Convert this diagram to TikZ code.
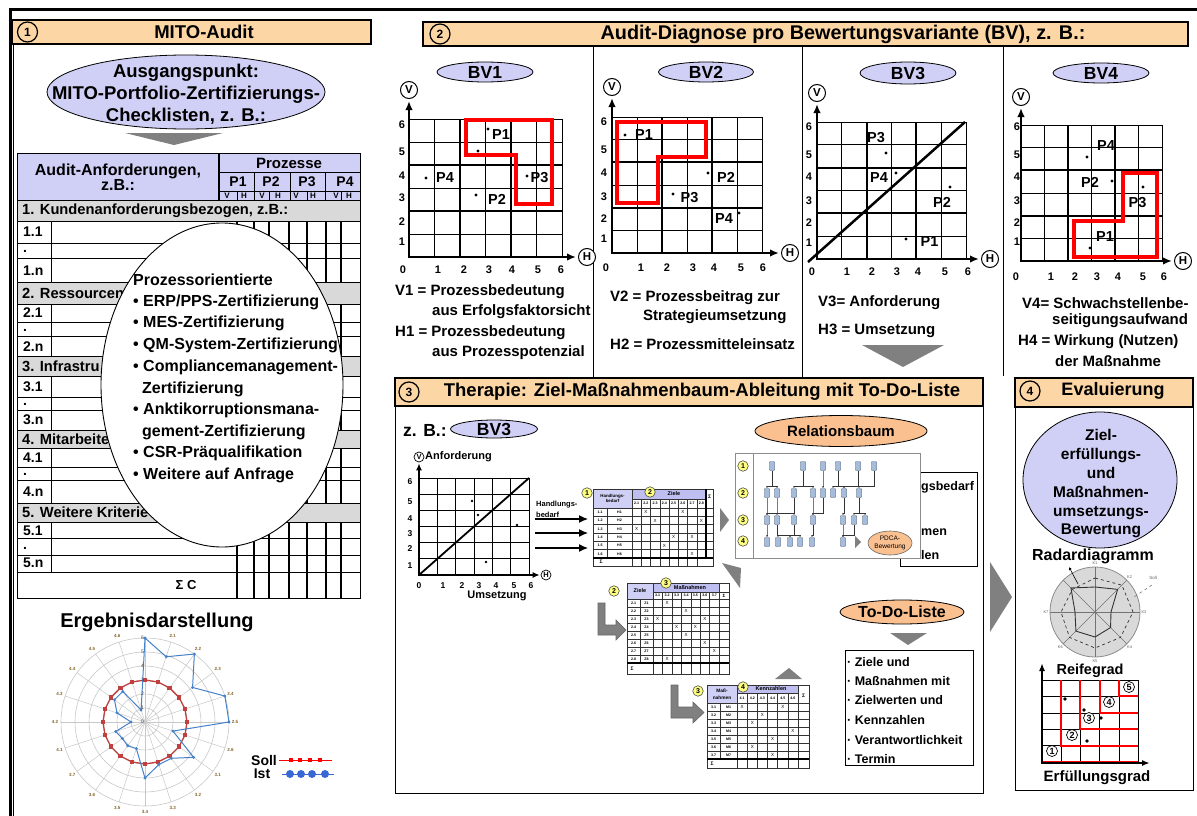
\documentclass[tikz,border=0pt]{standalone}
\usepackage{fontspec}
\setmainfont{Liberation Sans}
\usetikzlibrary{arrows.meta,shapes.geometric,calc}
\definecolor{hdr}{RGB}{252,214,164}
\definecolor{lav}{RGB}{208,208,246}
\definecolor{lavd}{RGB}{190,190,240}
\definecolor{orng}{RGB}{250,192,144}
\definecolor{barg}{RGB}{217,217,217}
\definecolor{trig}{RGB}{128,128,128}
\definecolor{ylw}{RGB}{255,255,130}
\definecolor{sollc}{RGB}{192,64,64}
\definecolor{istc}{RGB}{70,130,200}
\definecolor{radlab}{RGB}{130,100,40}
\definecolor{nodeb}{RGB}{165,188,218}
\definecolor{gridg}{RGB}{200,200,200}
\newcommand\fsz[2]{\fontsize{#1}{#2}\selectfont\bfseries}
\newcommand\fsn[2]{\fontsize{#1}{#2}\selectfont}
\newcommand\bvgrid[6]{%
  \begin{scope}[shift={(#1,#2)},x=#3pt,y=#4pt]
    \foreach \gi in {0,...,6}{%
      \draw[line width=#5] (\gi,0)--(\gi,6);
      \draw[line width=#5] (0,\gi)--(6,\gi);}
    \draw[line width=#6] (2,0)--(2,6) (4,0)--(4,6) (0,2)--(6,2) (0,4)--(6,4);
  \end{scope}}
\newcommand\relconn[2]{\draw[relline] (#1.south) |- ([yshift=2.5pt]#2.north) -- (#2.north);}
\tikzset{
  fs/.style 2 args={inner sep=0pt, font=\fsz{#1}{#2}},
  fn/.style 2 args={inner sep=0pt, font=\fsn{#1}{#2}},
  hdrbox/.style={draw=black, line width=1.2pt, fill=hdr},
  numc/.style={circle, draw=black, line width=1.2pt, inner sep=0pt, minimum size=20pt, font=\fsz{12}{13}},
  axc/.style={circle, draw=black, line width=1pt, fill=white, inner sep=0pt, minimum size=17pt, font=\fsz{11.5}{13}},
  axcs/.style={circle, draw=black, line width=0.7pt, fill=white, inner sep=0pt, minimum size=10pt, font=\fsz{7.5}{8}},
  bvell/.style={ellipse, draw=black, line width=0.8pt, fill=lav, inner sep=0pt, font=\fsz{17.5}{20}},
  axarr/.style={line width=2.5pt, shorten <=2pt, shorten >=2pt, {Latex[length=9pt,width=7.5pt]}-{Latex[length=9pt,width=7.5pt]}},
  axarrs/.style={line width=1.8pt, shorten <=1pt, shorten >=1pt, {Latex[length=7pt,width=6pt]}-{Latex[length=7pt,width=6pt]}},
  redpoly/.style={draw=red, line width=4pt, line join=miter},
  dotp/.style={circle, fill=black, inner sep=0pt, minimum size=3.4pt},
  plab/.style={inner sep=0pt, font=\fsz{14.5}{16}},
  tickl/.style={inner sep=0pt, font=\fsz{11}{12}},
  tickls/.style={inner sep=0pt, font=\fsz{8.5}{9}},
  bvtxt/.style={inner sep=0pt, anchor=west, font=\fsz{15}{17}},
  ycirc/.style={circle, draw=black!70, line width=0.6pt, fill=ylw, inner sep=0pt, minimum size=10.5pt, font=\fsz{7}{8}},
  tcell/.style={inner sep=0pt, font=\fsz{3.6}{4}},
  xmark/.style={inner sep=0pt, font=\fsn{4.5}{5}},
  tline/.style={line width=0.4pt, draw=black!80},
  relbox/.style={draw=nodeb!55!black, fill=nodeb, line width=0.4pt, minimum width=5.5pt, minimum height=9pt, inner sep=0pt, rounded corners=0.8pt},
  relline/.style={line width=0.5pt, draw=black!80, -{Latex[length=2pt,width=2pt]}},
  todotxt/.style={inner sep=0pt, anchor=west, font=\fsz{12.5}{14}},
  grayarrow/.style={fill=trig, draw=black!60, line width=0.6pt},
  rowlab/.style={inner sep=0pt, anchor=west, font=\fsz{14}{16}},
  bartxt/.style={inner sep=0pt, anchor=west, font=\fsz{14.7}{16}},
  elltxt/.style={inner sep=0pt, anchor=west, font=\fsz{16}{18}},
  mcirc/.style={circle, draw=black, fill=white, line width=0.7pt, minimum size=11pt, inner sep=0pt, font=\fsz{9}{9}},
}
\begin{document}
\begin{tikzpicture}[x=1pt,y=-1pt]
\useasboundingbox (0,0) rectangle (1197,816);
\fill[white] (0,0) rectangle (1197,816);
% ---------------- outer frame
\draw[line width=3pt] (10,818) -- (10,10) -- (1199,10);
\draw[line width=1pt] (13.8,44) -- (13.8,818);

% ================= SECTION 1
\draw[hdrbox] (12,20) rectangle (371,44);
\node[numc] (n1) at (27.5,32) {1};
\node[fs={18.5}{20}] (t1) at (204,32) {MITO-Audit};
\node[ellipse, draw=black, line width=0.8pt, fill=lav, minimum width=278pt, minimum height=74pt, inner sep=0pt] (ausg) at (186,92) {};
\node[fs={18.5}{22}, align=center] (ausgt) at (186,94) {Ausgangspunkt:\\MITO-Portfolio-Zertifizierungs-\\Checklisten, z. B.:};
\fill[trig] (125,133) -- (223,133) -- (174,145) -- cycle;

% table header
\draw[line width=1pt, fill=lav] (17,153) rectangle (360,200);
\draw[line width=2pt] (219,153) -- (219,200);
\draw[line width=1pt] (219,172) -- (360,172) (254,172)--(254,200) (290,172)--(290,200) (325,172)--(325,200);
\draw[line width=0.8pt] (219,191)--(360,191) (237,191)--(237,200) (269,191)--(269,200) (307,191)--(307,200) (341,191)--(341,200);
\node[fs={16}{13.5}, align=center] (aah) at (118,177) {Audit-Anforderungen,\\z.B.:};
\node[fs={15}{16}] (proz) at (289,163) {Prozesse};
\node[fs={14}{16}] (p1h) at (238,181.5) {P1};
\node[fs={14}{16}] (p2h) at (271,181.5) {P2};
\node[fs={14}{16}] (p3h) at (307,181.5) {P3};
\node[fs={14}{16}] (p4h) at (345,181.5) {P4};
\foreach \vx/\hx in {227/244, 262/278, 296/313, 336/349} {
  \node[fs={8}{8}] at (\vx,196) {V};
  \node[fs={8}{8}] at (\hx,196) {H};}

% table body
\draw[line width=0.9pt] (17,200) rectangle (360,598);
\draw[line width=1pt] (51,221) -- (51,572);
\foreach \cx in {237,254,269,289,307,326,341} \draw[line width=1.1pt] (\cx,200) -- (\cx,598);
\foreach \ry in {243,258,282,304,322,336,356,376,397,410,430,448,467,480,503,522,538,555,572} \draw[line width=0.9pt] (17,\ry) -- (360,\ry);
\foreach \ya/\yb in {200/221,282/304,356/376,430/448,503/522} \draw[line width=0.9pt, fill=barg] (17,\ya) rectangle (360,\yb);
\node[bartxt] (b1) at (22,211) {1. Kundenanforderungsbezogen, z.B.:};
\node[bartxt] (b2) at (22,293) {2. Ressourcen};
\node[bartxt] (b3) at (22,366) {3. Infrastru};
\node[bartxt] (b4) at (22,439) {4. Mitarbeite};
\node[bartxt] (b5) at (22,512.5) {5. Weitere Kriterie};
\foreach \lab/\ly in {1.1/232, ./251, 1.n/271, 2.1/313, ./330, 2.n/347, 3.1/387, ./404, 3.n/420, 4.1/458, ./474, 4.n/492, 5.1/531, ./548, 5.n/563}
  \node[rowlab] at (23,\ly) {\lab};
\node[fs={13}{15}] (sumc) at (186,585) {Σ C};

% overlay ellipse
\node[ellipse, draw=black, line width=0.9pt, fill=white, minimum width=242pt, minimum height=324pt, inner sep=0pt] (proell) at (222,385) {};
\node[elltxt] (e0) at (133,280) {Prozessorientierte};
\node[elltxt] (e1) at (133,302) {• ERP/PPS-Zertifizierung};
\node[elltxt] (e2) at (133,323) {• MES-Zertifizierung};
\node[elltxt] (e3) at (133,345) {• QM-System-Zertifizierung};
\node[elltxt] (e4) at (133,367) {• Compliancemanagement-};
\node[elltxt] (e5) at (142,389) {Zertifizierung};
\node[elltxt] (e6) at (133,410) {• Anktikorruptionsmana-};
\node[elltxt] (e7) at (142,432) {gement-Zertifizierung};
\node[elltxt] (e8) at (133,453) {• CSR-Präqualifikation};
\node[elltxt] (e9) at (133,475) {• Weitere auf Anfrage};

% Ergebnisdarstellung
\node[fs={20}{22}] (ergd) at (157,622) {Ergebnisdarstellung};
\begin{scope}[shift={(145,722)}]
  \foreach \r in {1,...,6} \draw[gridg, line width=0.6pt] (0,0) circle[radius=\r*14pt];
  \foreach \k in {0,...,19} \draw[gridg, line width=0.5pt] (0,0) -- ({90-18*\k}:84pt);
  \draw[sollc, line width=1.3pt] (90:42pt) \foreach \k in {1,...,19} { -- ({90-18*\k}:42pt) } -- cycle;
  \foreach \k in {0,...,19} \fill[sollc] ({90-18*\k}:42pt) ++(-2.4pt,-2.4pt) rectangle ++(4.8pt,4.8pt);
  \draw[istc, line width=1pt] (90:84pt) -- (72:68.6pt) -- (54:84pt) -- (36:58.8pt) -- (18:84pt) -- (0:84pt) -- (-18:29.4pt) -- (-36:60.2pt) -- (-54:44.8pt) -- (-72:44.8pt) -- (-90:56pt) -- (-108:28pt) -- (-126:29.4pt) -- (-144:28pt) -- (-162:30.8pt) -- (180:14pt) -- (162:29.4pt) -- (144:37.8pt) -- (126:37.8pt) -- (108:12.6pt) -- cycle;
  \foreach \a/\rr in {90/84,72/68.6,54/84,36/58.8,18/84,0/84,-18/29.4,-36/60.2,-54/44.8,-72/44.8,-90/56,-108/28,-126/29.4,-144/28,-162/30.8,180/14,162/29.4,144/37.8,126/37.8,108/12.6}
    \fill[istc] (\a:\rr pt) circle[radius=1.6pt];
  \foreach \v in {0,...,6} \node[fn={5}{5}, anchor=east, text=black!75] at (-1pt,{\v*14pt}) {\v};
  \foreach \k/\l in {1/2.1,2/2.2,3/2.3,4/2.4,5/2.5,6/2.6,7/3.1,8/3.2,9/3.3,10/3.4,11/3.5,12/3.6,13/3.7,14/4.1,15/4.2,16/4.3,17/4.4,18/4.5,19/4.6}
    \node[fs={4.5}{5}, text=radlab] at ({90-18*\k}:90pt) {\l};
\end{scope}
\node[fs={14}{16}] (lsoll) at (264,760) {Soll};
\node[fs={14}{16}] (list) at (262,774) {Ist};
\draw[red, line width=1pt] (279,760) -- (332,760);
\foreach \sx in {291,300,310,320} \fill[red] (\sx-2.2,757.8) rectangle (\sx+2.2,762.2);
\draw[istc!80!blue, line width=1pt] (282,774) -- (334,774);
\foreach \sx in {290,301,312,325} \fill[istc!80!blue] (\sx,774) circle[radius=4pt];

% ================= SECTION 2
\draw[hdrbox] (423,22) rectangle (1188,46);
\node[numc] (n2) at (440,34) {2};
\node[fs={19.8}{21}] (t2) at (843,34) {Audit-Diagnose pro Bewertungsvariante (BV), z. B.:};
\draw[line width=1pt] (593,46) -- (593,378) (802,46) -- (802,378) (1003,46) -- (1003,376);

% ---- BV1
\node[bvell, minimum width=96pt, minimum height=20pt] (bv1) at (485,72) {BV1};
\bvgrid{409}{257}{25.5}{23}{0.9pt}{2pt}
\node[axc] (ax1v) at (409,90) {V};
\node[axc] (ax1h) at (587,257) {H};
\draw[axarr] (ax1v) |- (ax1h);
\draw[redpoly] (466,120) -- (552,120) -- (552,204) -- (516,204) -- (516,155) -- (466,155) -- cycle;
\foreach \v/\yy in {6/125,5/152,4/176,3/198,2/222,1/242} \node[tickl] at (402,\yy) {\v};
\foreach \v/\xx in {0/403,1/438,2/464,3/489,4/512,5/538,6/561} \node[tickl] at (\xx,270) {\v};
\node[dotp] (d11) at (488,129) {}; \node[plab] (l11) at (501,134.5) {P1};
\node[dotp] (d15) at (478,151) {};
\node[dotp] (d14) at (426,178) {}; \node[plab] (l14) at (445,178) {P4};
\node[dotp] (d12) at (476,195) {}; \node[plab] (l12) at (497,199.5) {P2};
\node[dotp] (d13) at (527,176) {}; \node[plab] (l13) at (539.5,177.5) {P3};
\node[bvtxt] (v1t) at (395,292) {V1 = Prozessbedeutung};
\node[bvtxt] (v1t2) at (432,312) {aus Erfolgsfaktorsicht};
\node[bvtxt] (h1t) at (395,333) {H1 = Prozessbedeutung};
\node[bvtxt] (h1t2) at (432,353) {aus Prozesspotenzial};

% ---- BV2
\node[bvell, minimum width=95pt, minimum height=20pt] (bv2) at (706,72) {BV2};
\bvgrid{612}{253}{25}{22.67}{0.9pt}{2pt}
\node[axc] (ax2v) at (612,87) {V};
\node[axc] (ax2h) at (790,253) {H};
\draw[axarr] (ax2v) |- (ax2h);
\draw[redpoly] (617,122) -- (706,122) -- (706,157) -- (658,157) -- (658,203) -- (617,203) -- cycle;
\foreach \v/\yy in {6/122,5/150,4/173,3/197,2/219,1/239} \node[tickl] at (604,\yy) {\v};
\foreach \v/\xx in {0/606,1/641,2/667,3/693,4/714,5/741,6/763} \node[tickl] at (\xx,268) {\v};
\node[dotp] (d21) at (625,135) {}; \node[plab] (l21) at (644,134.5) {P1};
\node[dotp] (d22) at (708,173) {}; \node[plab] (l22) at (726,177) {P2};
\node[dotp] (d23) at (673,194) {}; \node[plab] (l23) at (689.5,197.5) {P3};
\node[dotp] (d24) at (739,213) {}; \node[plab] (l24) at (724,218.5) {P4};
\node[bvtxt] (v2t) at (610,298) {V2 = Prozessbeitrag zur};
\node[bvtxt] (v2t2) at (643,317) {Strategieumsetzung};
\node[bvtxt] (h2t) at (610,344) {H2 = Prozessmitteleinsatz};

% ---- BV3
\node[bvell, minimum width=96pt, minimum height=22pt] (bv3) at (908,73) {BV3};
\bvgrid{817}{259}{24.83}{22.83}{0.9pt}{2pt}
\node[axc] (ax3v) at (817,93) {V};
\node[axc] (ax3h) at (990,259) {H};
\draw[axarr] (ax3v) |- (ax3h);
\coordinate (dg3a) at (808,262);
\coordinate (dg3b) at (965,122);
\draw[line width=2.5pt] (dg3a) -- (dg3b);
\foreach \v/\yy in {6/127,5/155,4/177,3/201,2/223,1/243} \node[tickl] at (809,\yy) {\v};
\foreach \v/\xx in {0/812,1/847,2/872,3/897,4/918,5/945,6/968} \node[tickl] at (\xx,272) {\v};
\node[dotp] (d33) at (886,153) {}; \node[plab] (l33) at (876,137.5) {P3};
\node[dotp] (d34) at (896,173) {}; \node[plab] (l34) at (879,177.5) {P4};
\node[dotp] (d32) at (950,187) {}; \node[plab] (l32) at (942,202.5) {P2};
\node[dotp] (d31) at (906,239) {}; \node[plab] (l31) at (929.5,242) {P1};
\node[bvtxt] (v3t) at (818,303) {V3= Anforderung};
\node[bvtxt] (h3t) at (818,331) {H3 = Umsetzung};
\fill[trig] (862,345) -- (944,345) -- (903,367) -- cycle;

% ---- BV4
\node[bvell, minimum width=96pt, minimum height=20pt] (bv4) at (1101,73) {BV4};
\bvgrid{1021}{261}{23.5}{22.67}{0.9pt}{2pt}
\node[axc] (ax4v) at (1021,97) {V};
\node[axc] (ax4h) at (1183,261) {H};
\draw[axarr] (ax4v) |- (ax4h);
\draw[redpoly] (1074,221) -- (1123,221) -- (1123,173) -- (1157,173) -- (1157,257) -- (1074,257) -- cycle;
\foreach \v/\yy in {6/127,5/155,4/177,3/201,2/223,1/242} \node[tickl] at (1017,\yy) {\v};
\foreach \v/\xx in {0/1016,1/1051,2/1075,3/1097,4/1118,5/1143,6/1164} \node[tickl] at (\xx,277) {\v};
\node[dotp] (d44) at (1087,157) {}; \node[plab] (l44) at (1106,146) {P4};
\node[dotp] (d42) at (1112,181) {}; \node[plab] (l42) at (1090,182.5) {P2};
\node[dotp] (d43) at (1143,187) {}; \node[plab] (l43) at (1137.5,202.5) {P3};
\node[dotp] (d41) at (1090,248) {}; \node[plab] (l41) at (1105,236.5) {P1};
\node[bvtxt] (v4t) at (1022,303) {V4= Schwachstellenbe-};
\node[bvtxt] (v4t2) at (1052,321) {seitigungsaufwand};
\node[bvtxt] (h4t) at (1018,342) {H4 = Wirkung (Nutzen)};
\node[bvtxt] (h4t2) at (1055,361) {der Maßnahme};

% ================= SECTION 3
\draw[line width=1pt] (395,406) rectangle (983,793);
\draw[hdrbox] (395,378) rectangle (983,406);
\node[numc] (n3) at (409,392) {3};
\node[fs={18.5}{20}] (t3) at (702,392) {Therapie: Ziel-Maßnahmenbaum-Ableitung mit To-Do-Liste};
\node[fs={17.5}{20}, anchor=west] (zb) at (403,430) {z. B.:};
\node[bvell, minimum width=87pt, minimum height=18pt] (bv3b) at (494,429) {BV3};

% small plot
\bvgrid{419}{575}{18.33}{16.17}{0.7pt}{1.5pt}
\node[axcs] (axsv) at (419,457) {V};
\node[axcs] (axsh) at (546,575) {H};
\draw[axarrs] (axsv) |- (axsh);
\node[fs={11}{12}, anchor=west] (anf) at (425,457) {Anforderung};
\coordinate (dgsa) at (419,575);
\coordinate (dgsb) at (529,478);
\draw[line width=1.8pt] (dgsa) -- (dgsb);
\foreach \v/\yy in {6/482,5/502,4/519,3/534,2/549,1/566} \node[tickls] at (410,\yy) {\v};
\foreach \v/\xx in {0/419,1/443,2/462,3/479,4/496,5/514,6/531} \node[tickls] at (\xx,586) {\v};
\node[fs={11}{12}] (ums) at (497,596) {Umsetzung};
\foreach \px/\py in {472/501,478/515,517/525,486/562} \fill (\px,\py) circle[radius=1.4pt];

% Handlungsbedarf arrows
\node[fs={7.5}{9}, anchor=west] (hb1) at (536,505) {Handlungs-};
\node[fs={7.5}{9}, anchor=west] (hb2) at (536,516) {\underline{bedarf}};
\coordinate (ar1a) at (535,519); \coordinate (ar1b) at (588,519);
\coordinate (ar2a) at (535,533); \coordinate (ar2b) at (588,533);
\coordinate (ar3a) at (535,548); \coordinate (ar3b) at (588,548);
\foreach \aa/\bb in {ar1a/ar1b,ar2a/ar2b,ar3a/ar3b} \draw[line width=1.2pt, -{Latex[length=9pt,width=8pt]}] (\aa) -- (\bb);

% ---- Table 1
\fill[lav] (593,489) rectangle (632,508);
\fill[lavd] (632,489) rectangle (706,499);
\draw[tline] (593,489) rectangle (713,566);
\draw[tline] (632,489) -- (632,566) (607,508) -- (607,558) (632,499) -- (706,499) (593,508) -- (713,508);
\foreach \i in {1,...,7} \draw[tline] ({632+\i*9.25},499) -- ({632+\i*9.25},566);
\foreach \j in {1,...,5} \draw[tline] (593,{508+\j*8.333}) -- (713,{508+\j*8.333});
\draw[line width=1.1pt] (706,489) -- (706,558) (593,558) -- (713,558);
\node[fs={4.4}{5}, align=center] (t1hb) at (612.5,498.5) {Handlungs-\\bedarf};
\node[fs={5.5}{6}] (t1z) at (674,494) {Ziele};
\foreach \i in {1,...,8} \node[tcell] at ({632+(\i-0.5)*9.25},503.5) {2.\i};
\node[fs={5}{5}] (t1s) at (709.5,497) {Σ};
\foreach \j in {1,...,6} {
  \node[tcell] at (600,{508+(\j-0.5)*8.333}) {1.\j};
  \node[tcell] at (619.5,{508+(\j-0.5)*8.333}) {H\j};}
\node[fs={5}{5}] (t1s2) at (601,562) {Σ};
\foreach \j/\i in {1/2,1/6,2/3,2/8,3/1,4/5,4/7,5/4,6/7} \node[xmark] at ({632+(\i-0.5)*9.25},{508+(\j-0.5)*8.333}) {X};
\node[ycirc] (y1a) at (587,493) {1};
\node[ycirc] (y1b) at (650,492) {2};

% ---- Table 2
\fill[lav] (627,583) rectangle (653,599);
\fill[lavd] (653,583) rectangle (719,592);
\draw[tline] (627,583) rectangle (729,674);
\draw[tline] (653,583) -- (653,674) (640,599) -- (640,663) (653,592) -- (729,592) (627,599) -- (729,599) (719,583) -- (719,674);
\foreach \i in {1,...,6} \draw[tline] ({653+\i*9.43},592) -- ({653+\i*9.43},674);
\foreach \j in {1,...,7} \draw[tline] (627,{599+\j*8}) -- (729,{599+\j*8});
\draw[line width=1.1pt] (627,663) -- (729,663);
\node[fs={5.5}{6}] (t2z) at (640,591) {Ziele};
\node[fs={5.5}{6}] (t2m) at (690,587.5) {Maßnahmen};
\foreach \i in {1,...,7} \node[tcell] at ({653+(\i-0.5)*9.43},595.5) {3.\i};
\node[fs={4.5}{5}] (t2s) at (724,595.5) {Σ};
\foreach \j in {1,...,8} {
  \node[tcell] at (633.5,{599+(\j-0.5)*8}) {2.\j};
  \node[tcell] at (646.5,{599+(\j-0.5)*8}) {Z\j};}
\node[fs={5}{5}] (t2s2) at (632,668.5) {Σ};
\foreach \j/\i in {1/2,2/4,3/1,3/6,4/3,4/5,5/4,6/6,7/7,8/2} \node[xmark] at ({653+(\i-0.5)*9.43},{599+(\j-0.5)*8}) {X};
\node[ycirc] (y2a) at (614,591) {2};
\node[ycirc] (y2b) at (666,583) {3};

% ---- Table 3
\fill[lav] (707,685) rectangle (737,703);
\fill[lavd] (737,685) rectangle (798,693);
\draw[tline] (707,685) rectangle (809,768);
\draw[tline] (737,685) -- (737,768) (720,703) -- (720,759) (737,693) -- (798,693) (707,703) -- (809,703) (798,685) -- (798,768);
\foreach \i in {1,...,5} \draw[tline] ({737+\i*10.17},693) -- ({737+\i*10.17},768);
\foreach \j in {1,...,6} \draw[tline] (707,{703+\j*8}) -- (809,{703+\j*8});
\draw[line width=1.1pt] (707,759) -- (809,759);
\node[fs={4.8}{7}, align=center] (t3mn) at (722,694) {Maß-\\nahmen};
\node[fs={5.5}{6}] (t3k) at (771,689) {Kennzahlen};
\foreach \i in {1,...,6} \node[tcell] at ({737+(\i-0.5)*10.17},698) {4.\i};
\node[fs={5}{5}] (t3s) at (803.5,696) {Σ};
\foreach \j in {1,...,7} {
  \node[tcell] at (713.5,{703+(\j-0.5)*8}) {3.\j};
  \node[tcell] at (728.5,{703+(\j-0.5)*8}) {M\j};}
\node[fs={5}{5}] (t3s2) at (712,763.5) {Σ};
\foreach \j/\i in {1/1,1/5,2/3,3/2,4/6,5/4,6/2,7/4} \node[xmark] at ({737+(\i-0.5)*10.17},{703+(\j-0.5)*8}) {X};
\node[ycirc] (y3a) at (698,691) {3};
\node[ycirc] (y3b) at (743,687) {4};

% bent gray arrows
\draw[grayarrow] (598,603) -- (605,603) -- (605,625) -- (616,625) -- (616,620) -- (626,630) -- (616,640) -- (616,635) -- (598,635) -- cycle;
\draw[grayarrow] (671,685) -- (678,685) -- (678,707) -- (693,707) -- (693,702) -- (704,712.5) -- (693,723) -- (693,718) -- (671,718) -- cycle;
% gray triangles
\fill[trig] (720,508) -- (729,520) -- (720,532) -- cycle;
\fill[trig] (722,563) -- (741,568) -- (740,588) -- cycle;
\fill[trig] (775,679) -- (802,679) -- (789,668) -- cycle;

% Relationsbaum
\node[ellipse, draw=black, line width=0.8pt, fill=orng, minimum width=172pt, minimum height=31pt, inner sep=0pt, font=\fsz{15}{17}] (relell) at (841,431) {Relationsbaum};
\draw[line width=1pt] (900,472) rectangle (977,566);
\node[fs={12.5}{14}, anchor=west] (hid1) at (921,487) {gsbedarf};
\node[fs={12.5}{14}, anchor=west] (hid2) at (921,532) {men};
\node[fs={12.5}{14}, anchor=west] (hid3) at (921,555) {len};
\draw[draw=black!45, line width=0.8pt, fill=white] (735,453) rectangle (920,558);
\draw[black!45, line width=0.6pt] (753,453) -- (753,558);
\node[ycirc] (ry1) at (743,466) {1};
\node[ycirc] (ry2) at (743,493) {2};
\node[ycirc] (ry3) at (743,520) {3};
\node[ycirc] (ry4) at (743,541) {4};
\foreach \n/\xx in {1/772,2/803,3/823,4/838,5/858,6/874} \node[relbox] (ra\n) at (\xx,466) {};
\foreach \n/\xx in {1/767,2/777,3/794,4/813,5/823,6/833,7/844,8/859} \node[relbox] (rb\n) at (\xx,493) {};
\foreach \n/\xx in {1/767,2/777,3/794,4/813,5/843,6/854,7/865} \node[relbox] (rc\n) at (\xx,520) {};
\foreach \n/\xx in {1/767,2/778,3/790,4/800,5/812,6/843} \node[relbox] (rd\n) at (\xx,542) {};
\relconn{ra1}{rb1} \relconn{ra1}{rb2} \relconn{ra2}{rb3} \relconn{ra2}{rb4}
\relconn{ra3}{rb5} \relconn{ra4}{rb6} \relconn{ra4}{rb7} \relconn{ra5}{rb7} \relconn{ra6}{rb8}
\relconn{rb1}{rc1} \relconn{rb2}{rc2} \relconn{rb3}{rc1} \relconn{rb3}{rc3} \relconn{rb4}{rc4}
\relconn{rb5}{rc4} \relconn{rb7}{rc5} \relconn{rb8}{rc6} \relconn{rb8}{rc7}
\relconn{rc1}{rd1} \relconn{rc2}{rd2} \relconn{rc3}{rd3} \relconn{rc3}{rd4} \relconn{rc2}{rd3}
\relconn{rc4}{rd5} \relconn{rc5}{rd6} \relconn{rc6}{rd6}
\fill[trig] (855,536) -- (861,542) -- (855,548) -- cycle;
\node[ellipse, draw=black!60, line width=0.6pt, fill=orng, minimum width=44pt, minimum height=24pt, inner sep=0pt, align=center, font=\fsn{6.5}{7.5}] (pdca) at (890,543) {PDCA-\\Bewertung};

% To-Do
\node[ellipse, draw=black, line width=0.8pt, fill=orng, minimum width=100pt, minimum height=24pt, inner sep=0pt, font=\fsz{16}{18}] (todoell) at (902,612) {To-Do-Liste};
\fill[trig] (890,633) -- (927,633) -- (908,645) -- cycle;
\draw[line width=1pt] (845,650) rectangle (973,765);
\node[todotxt] (td1) at (847,662) {· Ziele und};
\node[todotxt] (td2) at (847,681) {· Maßnahmen mit};
\node[todotxt] (td3) at (847,700) {· Zielwerten und};
\node[todotxt] (td4) at (847,720) {· Kennzahlen};
\node[todotxt] (td5) at (847,740) {· Verantwortlichkeit};
\node[todotxt] (td6) at (847,759) {· Termin};

% big arrow to section 4
\fill[trig] (990,562) -- (1012,597) -- (990,632) -- cycle;

% ================= SECTION 4
\draw[line width=1pt] (1015,407) rectangle (1193,790);
\draw[hdrbox] (1015,378) rectangle (1193,407);
\node[numc] (n4) at (1030,391) {4};
\node[fs={18}{20}] (t4) at (1113,391) {Evaluierung};
\node[ellipse, draw=black, line width=0.8pt, fill=lav, minimum width=154pt, minimum height=136pt, inner sep=0pt] (zielell) at (1100,480) {};
\node[fs={15.5}{18.8}, align=center] (zielt) at (1101,484) {Ziel-\\erfüllungs-\\und\\Maßnahmen-\\umsetzungs-\\Bewertung};
\node[fs={16}{18}] (radd) at (1093,556) {Radardiagramm};
\begin{scope}[shift={(1095,612)}]
  \fill[black!15] (0,0) circle[radius=45pt];
  \draw[black!45, line width=0.8pt] (0,0) circle[radius=45pt];
  \foreach \a in {90,45,0,-45,-90,-135,180,135} \draw[black!55, line width=0.5pt] (0,0) -- (\a:45pt);
  \draw[black!80, line width=0.9pt] (90:25pt) -- (45:32pt) -- (0:16pt) -- (-45:22pt) -- (-90:25pt) -- (-135:27pt) -- (180:20pt) -- (135:34pt) -- cycle;
  \draw[black!80, line width=0.7pt, dashed] (90:34pt) -- (45:38pt) -- (0:38pt) -- (-45:36pt) -- (-90:36pt) -- (-135:36pt) -- (180:34pt) -- (135:32pt) -- cycle;
  \foreach \a/\l in {90/K1,45/K2,0/K3,-45/K4,-90/K5,-135/K6,180/K7} \node[fn={4}{4}, text=black!60] at (\a:49pt) {\l};
\end{scope}
\coordinate (rp1) at (1078,584); \coordinate (rp2) at (1069,567);
\draw[line width=0.6pt, -{Latex[length=3pt,width=3pt]}] (rp1) -- (rp2);
\node[fn={4.5}{5}, text=black!60] (sollk) at (1153,578) {Soll};
\coordinate (sp1) at (1152,585); \coordinate (sp2) at (1134,597);
\draw[line width=0.5pt, dashed, black!60] (sp1) -- (sp2);

\node[fs={14.5}{16}] (reif) at (1090,671) {Reifegrad};
\foreach \gx in {0,...,5} \draw[line width=0.6pt] ({1042+\gx*19.2},680) -- ({1042+\gx*19.2},762);
\foreach \gy in {0,...,5} \draw[line width=0.6pt] (1042,{680+\gy*16.4}) -- (1138,{680+\gy*16.4});
\foreach \s in {0,...,4} \draw[red, line width=2pt] ({1042+\s*19.2},680) -- ({1042+\s*19.2},{762-\s*16.4}) -- (1138,{762-\s*16.4});
\coordinate (mv) at (1042,663); \coordinate (mh) at (1150,763);
\draw[line width=2pt, {Latex[length=8pt,width=6pt]}-{Latex[length=8pt,width=6pt]}] (mv) |- (mh);
\node[mcirc] (m1) at (1052,751) {1};
\node[mcirc] (m2) at (1072,735) {2};
\node[mcirc] (m3) at (1089,718) {3};
\node[mcirc] (m4) at (1109,702) {4};
\node[mcirc] (m5) at (1129,687) {5};
\foreach \px/\py in {1065/699,1084/710,1101/718,1087/741} \fill (\px,\py) circle[radius=1.8pt];
\node[fs={15}{16}] (erf) at (1097,778) {Erfüllungsgrad};
\end{tikzpicture}
\end{document}
